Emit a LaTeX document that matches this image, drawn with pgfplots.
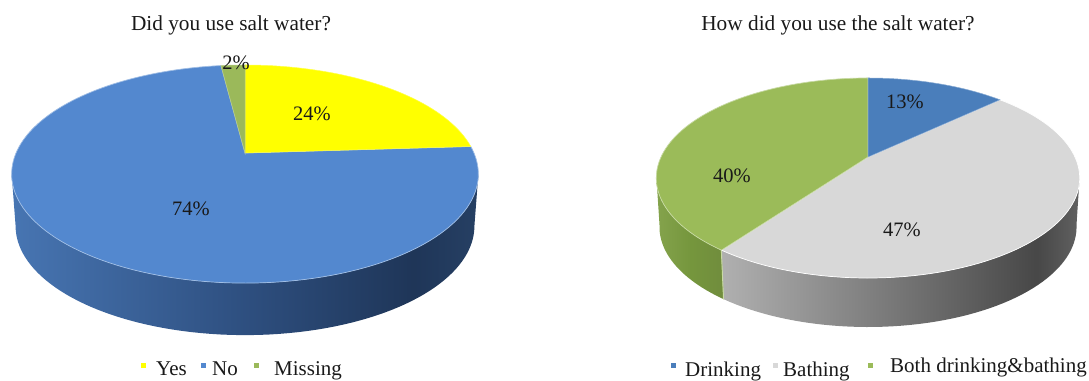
\documentclass[border=0pt]{standalone}
\usepackage{pgfplots}
\pgfplotsset{compat=1.18}
\usepackage{fontspec}
\setmainfont{Liberation Serif}

\definecolor{pieyes}{RGB}{255,255,0}
\definecolor{pieno}{RGB}{83,136,207}
\definecolor{piemiss}{RGB}{155,185,90}
\definecolor{piedrink}{RGB}{74,126,187}
\definecolor{piebath}{RGB}{216,216,216}
\definecolor{pieboth}{RGB}{155,187,89}

% side walls of the two discs, lit from the left
\pgfdeclarehorizontalshading{wallblue}{100bp}{
  rgb(0bp)=(0.28,0.46,0.70);
  rgb(25bp)=(0.28,0.46,0.70);
  rgb(50bp)=(0.18,0.31,0.50);
  rgb(68bp)=(0.12,0.21,0.345);
  rgb(75bp)=(0.15,0.25,0.39);
  rgb(100bp)=(0.15,0.25,0.39)}
\pgfdeclarehorizontalshading{wallgrey}{100bp}{
  rgb(0bp)=(0.69,0.69,0.69);
  rgb(25bp)=(0.69,0.69,0.69);
  rgb(50bp)=(0.46,0.46,0.46);
  rgb(69bp)=(0.28,0.28,0.28);
  rgb(75bp)=(0.38,0.38,0.38);
  rgb(100bp)=(0.38,0.38,0.38)}
\pgfdeclarehorizontalshading{wallgreen}{100bp}{
  rgb(0bp)=(0.52,0.64,0.30);
  rgb(25bp)=(0.52,0.64,0.30);
  rgb(50bp)=(0.46,0.59,0.24);
  rgb(75bp)=(0.44,0.55,0.24);
  rgb(100bp)=(0.44,0.55,0.24)}

% disc seen in perspective: apex, half-axes, foreshortening, wall height, wall taper
\newcommand{\setdisc}[7]{%
  \def\discx{#1}\def\discy{#2}\def\discA{#3}\def\discB{#4}%
  \def\disck{#5}\def\discd{#6}\def\disct{#7}}
\newcommand{\rimpoint}[1]{%
  \pgfmathsetmacro\rimden{1+\disck*cos(#1)}%
  \pgfmathsetmacro\rimx{\discx+\discA*sin(#1)/\rimden}%
  \pgfmathsetmacro\rimy{380-\discy+\discB*cos(#1)/\rimden}}
% outline of a slice running between two cumulative percentages
\newcommand{\slicelist}[2]{%
  \xdef\pielist{(\discx,\the\numexpr380-\discy\relax)}%
  \pgfmathsetmacro\tha{3.6*#1}%
  \pgfmathsetmacro\thb{3.6*#2}%
  \pgfmathtruncatemacro\nst{max(2,ceil((\thb-\tha)/2))}%
  \foreach \i in {0,...,\nst}{%
    \rimpoint{\tha+(\thb-\tha)/\nst*\i}%
    \xdef\pielist{\pielist (\rimx,\rimy)}}}
% outline of the visible wall under the same slice
\newcommand{\walllist}[2]{%
  \xdef\pielist{}%
  \pgfmathsetmacro\tha{max(3.6*#1,101)}%
  \pgfmathsetmacro\thb{min(3.6*#2,259)}%
  \pgfmathtruncatemacro\nst{max(2,ceil((\thb-\tha)/2))}%
  \foreach \i in {0,...,\nst}{%
    \rimpoint{\tha+(\thb-\tha)/\nst*\i}%
    \xdef\pielist{\pielist (\rimx,\rimy)}}%
  \foreach \i in {\nst,...,0}{%
    \rimpoint{\tha+(\thb-\tha)/\nst*\i}%
    \pgfmathsetmacro\lowx{\discx+\disct*(\rimx-\discx)}%
    \pgfmathsetmacro\lowy{\rimy-\discd}%
    \xdef\pielist{\pielist (\lowx,\lowy)}}}
\newcommand{\drawslice}[3]{%
  \slicelist{#2}{#3}%
  \edef\piecmd{\noexpand\addplot[#1] coordinates {\pielist} -- cycle;}\piecmd}
\newcommand{\drawwall}[3]{%
  \walllist{#2}{#3}%
  \edef\piecmd{\noexpand\addplot[#1] coordinates {\pielist} -- cycle;}\piecmd}

\tikzset{
  chart title/.style={overlay,font=\fontsize{21.3}{26}\selectfont,text=black!90,anchor=base},
  pct/.style={overlay,font=\fontsize{20.5}{24}\selectfont,text=black!90},
  keytext/.style={overlay,inner sep=0pt,font=\fontsize{21}{24}\selectfont,text=black!90,anchor=base west}}
\pgfplotsset{key mark/.style={only marks, mark=square*, mark size=2.1pt, color=#1, mark options={draw=#1, fill=#1}}}

\begin{document}
\begin{tikzpicture}
\begin{axis}[
  scale only axis, width=1089pt, height=380pt,
  xmin=0, xmax=1089, ymin=0, ymax=380,
  hide axis, clip=false]

\addplot[draw=none] coordinates {(0,0) (1089,380)};

% first disc: Yes 24, No 74, Missing 2
\setdisc{245}{153}{229}{105}{0.193}{52}{0.983}
\drawwall{shade, shading=wallblue, draw=none}{24}{98}
\drawslice{fill=pieno, draw=pieno!55!white, line width=0.7pt}{24}{98}
\drawslice{fill=pieyes, draw=pieyes!70!white, line width=0.5pt}{0}{24}
\drawslice{fill=piemiss, draw=piemiss!70!white, line width=0.5pt}{98}{100}

% second disc: Drinking 13, Bathing 47, Both 40
\setdisc{868}{157}{207}{95.6}{0.21}{49}{0.985}
\drawwall{shade, shading=wallgrey, draw=none}{13}{60}
\drawwall{shade, shading=wallgreen, draw=none}{60}{87}
\drawwall{fill=pieboth!55!white, draw=pieboth!55!white, line width=0.7pt}{60}{60.02}
\drawslice{fill=piebath, draw=white, line width=0.7pt}{13}{60}
\drawslice{fill=pieboth, draw=pieboth!55!white, line width=0.7pt}{60}{100}
\drawslice{fill=piedrink, draw=piedrink!65!white, line width=0.5pt}{0}{13}

% legend keys
\addplot[key mark=pieyes] coordinates {(143,15)};
\addplot[key mark=pieno] coordinates {(203,15)};
\addplot[key mark=piemiss] coordinates {(256,15)};
\addplot[key mark=piedrink] coordinates {(673,15)};
\addplot[key mark=piebath] coordinates {(775,15)};
\addplot[key mark=pieboth] coordinates {(870,15)};

% titles
\node[chart title] at (axis cs:231,349) {Did you use salt water?};
\node[chart title] at (axis cs:838,349) {How did you use the salt water?};

% slice labels
\node[pct] at (axis cs:236,317) {2\%};
\node[pct] at (axis cs:312,266) {24\%};
\node[pct] at (axis cs:191,171) {74\%};
\node[pct] at (axis cs:905,278) {13\%};
\node[pct] at (axis cs:732,204) {40\%};
\node[pct] at (axis cs:902,150) {47\%};

% legend entries
\node[keytext] at (axis cs:156,5) {Yes};
\node[keytext] at (axis cs:212,5) {No};
\node[keytext] at (axis cs:274,5) {Missing};
\node[keytext] at (axis cs:685,4) {Drinking};
\node[keytext] at (axis cs:783,4) {Bathing};
\node[keytext] at (axis cs:890,8) {Both drinking\&bathing};
\end{axis}
\end{tikzpicture}
\end{document}
